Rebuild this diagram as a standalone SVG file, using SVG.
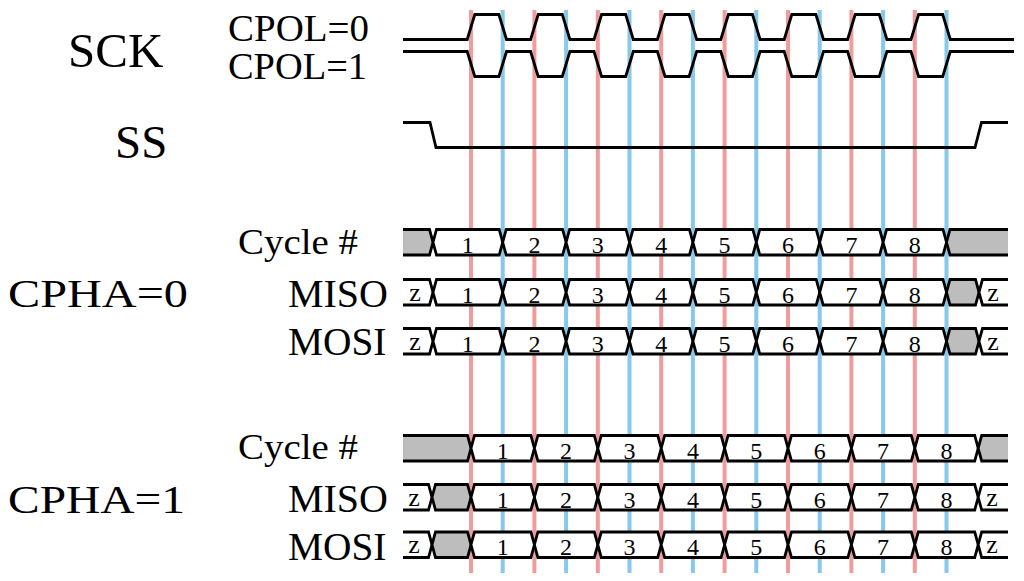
<svg xmlns="http://www.w3.org/2000/svg" xmlns:xlink="http://www.w3.org/1999/xlink" width="1024" height="581" viewBox="0 0 1024 581">
<style>
  .lbl{font-family:"Liberation Serif","Times New Roman",serif;fill:#000}
  .num{font-family:"Liberation Serif","Times New Roman",serif;font-size:24px;fill:#000;text-anchor:middle}
  .z{font-family:"Liberation Serif","Times New Roman",serif;font-size:26px;fill:#000;text-anchor:middle}
  .wave{fill:none;stroke:#000;stroke-width:2.8;stroke-linejoin:miter}
  .seg{fill:#fff;stroke:#000;stroke-width:2.8;stroke-linejoin:miter}
  .gray{fill:#bdbdbd;stroke:#000;stroke-width:2.8;stroke-linejoin:miter}
  .red{stroke:#ee9c9c;stroke-width:4}
  .blue{stroke:#88c8e8;stroke-width:4}
</style>
<defs>
  <path id="hx" d="M0,12.75 L3.5,0 H59.9 L63.4,12.75 L59.9,25.5 H3.5 Z"/>
</defs>
<rect width="1024" height="581" fill="#fff"/>

<g id="connectors">
  <line class="red" x1="471" y1="10" x2="471" y2="573"/>
  <line class="red" x1="534.4" y1="10" x2="534.4" y2="573"/>
  <line class="red" x1="597.8" y1="10" x2="597.8" y2="573"/>
  <line class="red" x1="661.2" y1="10" x2="661.2" y2="573"/>
  <line class="red" x1="724.6" y1="10" x2="724.6" y2="573"/>
  <line class="red" x1="788" y1="10" x2="788" y2="573"/>
  <line class="red" x1="851.4" y1="10" x2="851.4" y2="573"/>
  <line class="red" x1="914.8" y1="10" x2="914.8" y2="573"/>
  <line class="blue" x1="502.7" y1="10" x2="502.7" y2="573"/>
  <line class="blue" x1="566.1" y1="10" x2="566.1" y2="573"/>
  <line class="blue" x1="629.5" y1="10" x2="629.5" y2="573"/>
  <line class="blue" x1="692.9" y1="10" x2="692.9" y2="573"/>
  <line class="blue" x1="756.3" y1="10" x2="756.3" y2="573"/>
  <line class="blue" x1="819.7" y1="10" x2="819.7" y2="573"/>
  <line class="blue" x1="883.1" y1="10" x2="883.1" y2="573"/>
  <line class="blue" x1="946.5" y1="10" x2="946.5" y2="573"/>
</g>

<g id="sck">
  <text class="lbl" x="68" y="67" font-size="49">SCK</text>
  <text class="lbl" x="228" y="41" font-size="38" textLength="141" lengthAdjust="spacingAndGlyphs">CPOL=0</text>
  <text class="lbl" x="228" y="79" font-size="38" textLength="139" lengthAdjust="spacingAndGlyphs">CPOL=1</text>
  <path class="wave" d="M403,39.5 H467.2 L474.8,14.5 H498.9 L506.5,39.5 H530.6 L538.2,14.5 H562.3 L569.9,39.5 H594 L601.6,14.5 H625.7 L633.3,39.5 H657.4 L665,14.5 H689.1 L696.7,39.5 H720.8 L728.4,14.5 H752.5 L760.1,39.5 H784.2 L791.8,14.5 H815.9 L823.5,39.5 H847.6 L855.2,14.5 H879.3 L886.9,39.5 H911 L918.6,14.5 H942.7 L950.3,39.5 H1014"/>
  <path class="wave" d="M403,51.5 H467.2 L474.8,76.5 H498.9 L506.5,51.5 H530.6 L538.2,76.5 H562.3 L569.9,51.5 H594 L601.6,76.5 H625.7 L633.3,51.5 H657.4 L665,76.5 H689.1 L696.7,51.5 H720.8 L728.4,76.5 H752.5 L760.1,51.5 H784.2 L791.8,76.5 H815.9 L823.5,51.5 H847.6 L855.2,76.5 H879.3 L886.9,51.5 H911 L918.6,76.5 H942.7 L950.3,51.5 H1014"/>
</g>

<g id="ss">
  <text class="lbl" x="115" y="158" font-size="47">SS</text>
  <path class="wave" d="M403,122.5 H430 L436,147.5 H975 L981.5,122.5 H1008"/>
</g>

<g id="cpha0-label">
  <text class="lbl" x="8" y="307.3" font-size="40" textLength="180" lengthAdjust="spacingAndGlyphs">CPHA=0</text>
</g>

<g id="cpha0-cycle">
  <text class="lbl" x="238" y="253.5" font-size="36" textLength="120" lengthAdjust="spacingAndGlyphs">Cycle #</text>
  <path class="gray" d="M403,229.5 H429.5 L433,242.25 L429.5,255 H403"/>
  <polygon class="seg" points="433,242.25 436.5,229.5 499.2,229.5 502.7,242.25 499.2,255 436.5,255"/>
  <use href="#hx" class="seg" x="502.7" y="229.5"/>
  <use href="#hx" class="seg" x="566.1" y="229.5"/>
  <use href="#hx" class="seg" x="629.5" y="229.5"/>
  <use href="#hx" class="seg" x="692.9" y="229.5"/>
  <use href="#hx" class="seg" x="756.3" y="229.5"/>
  <use href="#hx" class="seg" x="819.7" y="229.5"/>
  <use href="#hx" class="seg" x="883.1" y="229.5"/>
  <path class="gray" d="M1008,229.5 H950 L946.5,242.25 L950,255 H1008"/>
  <text class="num" x="467.8" y="252.5">1</text>
  <text class="num" x="534.4" y="252.5">2</text>
  <text class="num" x="597.8" y="252.5">3</text>
  <text class="num" x="661.2" y="252.5">4</text>
  <text class="num" x="724.6" y="252.5">5</text>
  <text class="num" x="788" y="252.5">6</text>
  <text class="num" x="851.4" y="252.5">7</text>
  <text class="num" x="914.8" y="252.5">8</text>
</g>

<g id="cpha0-miso">
  <text class="lbl" x="288" y="307.3" font-size="40" textLength="100" lengthAdjust="spacingAndGlyphs">MISO</text>
  <path class="seg" d="M403,279.5 H429.5 L433,292.25 L429.5,305 H403"/>
  <polygon class="seg" points="433,292.25 436.5,279.5 499.2,279.5 502.7,292.25 499.2,305 436.5,305"/>
  <use href="#hx" class="seg" x="502.7" y="279.5"/>
  <use href="#hx" class="seg" x="566.1" y="279.5"/>
  <use href="#hx" class="seg" x="629.5" y="279.5"/>
  <use href="#hx" class="seg" x="692.9" y="279.5"/>
  <use href="#hx" class="seg" x="756.3" y="279.5"/>
  <use href="#hx" class="seg" x="819.7" y="279.5"/>
  <use href="#hx" class="seg" x="883.1" y="279.5"/>
  <polygon class="gray" points="946.5,292.25 950,279.5 975.5,279.5 979,292.25 975.5,305 950,305"/>
  <path class="seg" d="M1008,279.5 H982.5 L979,292.25 L982.5,305 H1008"/>
  <text class="z" x="415" y="300.5">z</text>
  <text class="num" x="467.8" y="302.5">1</text>
  <text class="num" x="534.4" y="302.5">2</text>
  <text class="num" x="597.8" y="302.5">3</text>
  <text class="num" x="661.2" y="302.5">4</text>
  <text class="num" x="724.6" y="302.5">5</text>
  <text class="num" x="788" y="302.5">6</text>
  <text class="num" x="851.4" y="302.5">7</text>
  <text class="num" x="914.8" y="302.5">8</text>
  <text class="z" x="993" y="300.5">z</text>
</g>

<g id="cpha0-mosi">
  <text class="lbl" x="288" y="355" font-size="40" textLength="98.5" lengthAdjust="spacingAndGlyphs">MOSI</text>
  <path class="seg" d="M403,328.5 H429.5 L433,341.25 L429.5,354 H403"/>
  <polygon class="seg" points="433,341.25 436.5,328.5 499.2,328.5 502.7,341.25 499.2,354 436.5,354"/>
  <use href="#hx" class="seg" x="502.7" y="328.5"/>
  <use href="#hx" class="seg" x="566.1" y="328.5"/>
  <use href="#hx" class="seg" x="629.5" y="328.5"/>
  <use href="#hx" class="seg" x="692.9" y="328.5"/>
  <use href="#hx" class="seg" x="756.3" y="328.5"/>
  <use href="#hx" class="seg" x="819.7" y="328.5"/>
  <use href="#hx" class="seg" x="883.1" y="328.5"/>
  <polygon class="gray" points="946.5,341.25 950,328.5 975.5,328.5 979,341.25 975.5,354 950,354"/>
  <path class="seg" d="M1008,328.5 H982.5 L979,341.25 L982.5,354 H1008"/>
  <text class="z" x="415" y="349.5">z</text>
  <text class="num" x="467.8" y="351.5">1</text>
  <text class="num" x="534.4" y="351.5">2</text>
  <text class="num" x="597.8" y="351.5">3</text>
  <text class="num" x="661.2" y="351.5">4</text>
  <text class="num" x="724.6" y="351.5">5</text>
  <text class="num" x="788" y="351.5">6</text>
  <text class="num" x="851.4" y="351.5">7</text>
  <text class="num" x="914.8" y="351.5">8</text>
  <text class="z" x="993" y="349.5">z</text>
</g>

<g id="cpha1-label">
  <text class="lbl" x="8" y="513" font-size="40" textLength="177" lengthAdjust="spacingAndGlyphs">CPHA=1</text>
</g>

<g id="cpha1-cycle">
  <text class="lbl" x="238" y="458.5" font-size="36" textLength="120" lengthAdjust="spacingAndGlyphs">Cycle #</text>
  <path class="gray" d="M403,435.5 H467.5 L471,448.25 L467.5,461 H403"/>
  <use href="#hx" class="seg" x="471" y="435.5"/>
  <use href="#hx" class="seg" x="534.4" y="435.5"/>
  <use href="#hx" class="seg" x="597.8" y="435.5"/>
  <use href="#hx" class="seg" x="661.2" y="435.5"/>
  <use href="#hx" class="seg" x="724.6" y="435.5"/>
  <use href="#hx" class="seg" x="788" y="435.5"/>
  <use href="#hx" class="seg" x="851.4" y="435.5"/>
  <use href="#hx" class="seg" x="914.8" y="435.5"/>
  <path class="gray" d="M1008,435.5 H981.7 L978.2,448.25 L981.7,461 H1008"/>
  <text class="num" x="502.7" y="458.5">1</text>
  <text class="num" x="566.1" y="458.5">2</text>
  <text class="num" x="629.5" y="458.5">3</text>
  <text class="num" x="692.9" y="458.5">4</text>
  <text class="num" x="756.3" y="458.5">5</text>
  <text class="num" x="819.7" y="458.5">6</text>
  <text class="num" x="883.1" y="458.5">7</text>
  <text class="num" x="946.5" y="458.5">8</text>
</g>

<g id="cpha1-miso">
  <text class="lbl" x="288" y="512.3" font-size="40" textLength="100" lengthAdjust="spacingAndGlyphs">MISO</text>
  <path class="seg" d="M403,484.5 H428.5 L432,497.25 L428.5,510 H403"/>
  <polygon class="gray" points="432,497.25 435.5,484.5 467.5,484.5 471,497.25 467.5,510 435.5,510"/>
  <use href="#hx" class="seg" x="471" y="484.5"/>
  <use href="#hx" class="seg" x="534.4" y="484.5"/>
  <use href="#hx" class="seg" x="597.8" y="484.5"/>
  <use href="#hx" class="seg" x="661.2" y="484.5"/>
  <use href="#hx" class="seg" x="724.6" y="484.5"/>
  <use href="#hx" class="seg" x="788" y="484.5"/>
  <use href="#hx" class="seg" x="851.4" y="484.5"/>
  <use href="#hx" class="seg" x="914.8" y="484.5"/>
  <path class="seg" d="M1008,484.5 H981.7 L978.2,497.25 L981.7,510 H1008"/>
  <text class="z" x="414" y="505.5">z</text>
  <text class="num" x="502.7" y="507.5">1</text>
  <text class="num" x="566.1" y="507.5">2</text>
  <text class="num" x="629.5" y="507.5">3</text>
  <text class="num" x="692.9" y="507.5">4</text>
  <text class="num" x="756.3" y="507.5">5</text>
  <text class="num" x="819.7" y="507.5">6</text>
  <text class="num" x="883.1" y="507.5">7</text>
  <text class="num" x="946.5" y="507.5">8</text>
  <text class="z" x="992" y="505.5">z</text>
</g>

<g id="cpha1-mosi">
  <text class="lbl" x="288" y="560" font-size="40" textLength="98.5" lengthAdjust="spacingAndGlyphs">MOSI</text>
  <path class="seg" d="M403,532 H428.5 L432,544.75 L428.5,557.5 H403"/>
  <polygon class="gray" points="432,544.75 435.5,532 467.5,532 471,544.75 467.5,557.5 435.5,557.5"/>
  <use href="#hx" class="seg" x="471" y="532"/>
  <use href="#hx" class="seg" x="534.4" y="532"/>
  <use href="#hx" class="seg" x="597.8" y="532"/>
  <use href="#hx" class="seg" x="661.2" y="532"/>
  <use href="#hx" class="seg" x="724.6" y="532"/>
  <use href="#hx" class="seg" x="788" y="532"/>
  <use href="#hx" class="seg" x="851.4" y="532"/>
  <use href="#hx" class="seg" x="914.8" y="532"/>
  <path class="seg" d="M1008,532 H981.7 L978.2,544.75 L981.7,557.5 H1008"/>
  <text class="z" x="414" y="553">z</text>
  <text class="num" x="502.7" y="555">1</text>
  <text class="num" x="566.1" y="555">2</text>
  <text class="num" x="629.5" y="555">3</text>
  <text class="num" x="692.9" y="555">4</text>
  <text class="num" x="756.3" y="555">5</text>
  <text class="num" x="819.7" y="555">6</text>
  <text class="num" x="883.1" y="555">7</text>
  <text class="num" x="946.5" y="555">8</text>
  <text class="z" x="992" y="553">z</text>
</g>
</svg>
